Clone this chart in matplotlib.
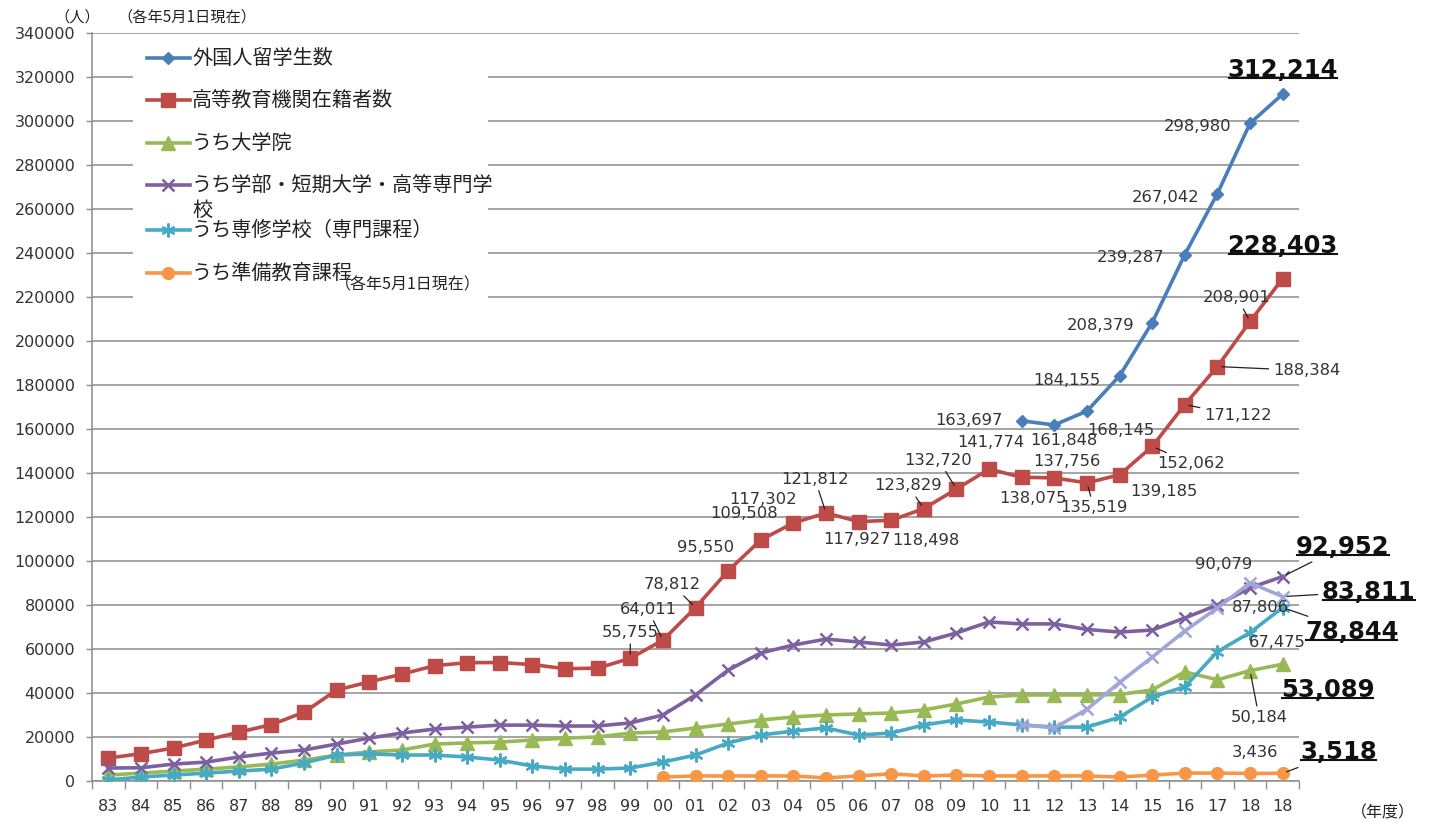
import matplotlib
matplotlib.use('Agg')
import matplotlib.pyplot as plt
from matplotlib.lines import Line2D
from matplotlib.patches import Rectangle
from matplotlib.text import Text
import numpy as np

plt.rcParams['font.family'] = ['DejaVu Sans', 'Noto Sans CJK JP']
JP = ['Noto Sans CJK JP', 'DejaVu Sans']

# ── Data ─────────────────────────────────────────────────────────
years = ['83', '84', '85', '86', '87', '88', '89', '90', '91', '92', '93', '94',
         '95', '96', '97', '98', '99', '00', '01', '02', '03', '04', '05', '06',
         '07', '08', '09', '10', '11', '12', '13', '14', '15', '16', '17', '18', '18']
nan = np.nan

foreign = [nan] * 28 + [163697, 161848, 168145, 184155, 208379, 239287,
                        267042, 298980, 312214]
higher = [10428, 12410, 15009, 18631, 22154, 25643, 31251, 41347, 45066, 48561,
          52405, 53787, 53847, 52921, 51047, 51298, 55755, 64011, 78812, 95550,
          109508, 117302, 121812, 117927, 118498, 123829, 132720, 141774, 138075,
          137756, 135519, 139185, 152062, 171122, 188384, 208901, 228403]
grad = [2700, 3600, 4500, 5400, 6400, 7700, 9500, 11800, 13200, 14100, 16800,
        17300, 17700, 18600, 19500, 20000, 21800, 22300, 24100, 25900, 27700,
        29100, 30000, 30500, 30900, 32300, 35000, 38200, 39100, 39100, 39100,
        39300, 41400, 49600, 46000, 50184, 53089]
undergrad = [5900, 6000, 7700, 8600, 10900, 12700, 14100, 16800, 19500, 21800,
             23600, 24500, 25400, 25400, 25000, 25000, 26400, 30000, 39100, 50400,
             58200, 61800, 64500, 63200, 61800, 63200, 67300, 72300, 71400, 71400,
             68900, 67700, 68600, 74100, 80000, 87806, 92952]
senshu = [500, 1800, 2700, 3600, 4500, 5400, 8200, 11800, 12300, 11800, 11800,
          10900, 9500, 6800, 5400, 5400, 5900, 8600, 11800, 17300, 20900, 22700,
          24100, 20900, 21800, 25500, 27700, 26800, 25500, 24500, 24500, 29000,
          38200, 42800, 58800, 67475, 78844]
prep = [nan] * 17 + [1800, 2300, 2300, 2300, 2300, 1400, 2300, 3300, 2300, 2700,
                     2300, 2300, 2300, 2300, 1800, 2700, 3600, 3600, 3436, 3518]
jplang = [nan] * 28 + [25600, 24100, 32600, 44800, 56300, 68200, 78700, 90079, 83811]

# ── Figure / axes ────────────────────────────────────────────────
W, H = 1431, 822
fig = plt.figure(figsize=(W / 100, H / 100), dpi=100, facecolor='white')
ax = fig.add_axes([92 / W, 1 - 781 / H, (1299 - 92) / W, (781 - 33) / H])

x = np.arange(len(years))
grid_c = '#8C8C8C'

styles = {
    'higher':    dict(color='#BE4B48', marker='s', ms=9.5, mew=1),
    'foreign':   dict(color='#4A7EBB', marker='D', ms=6.5, mew=1),
    'grad':      dict(color='#98B954', marker='^', ms=9.5, mew=1),
    'undergrad': dict(color='#7D60A0', marker='x', ms=9, mew=1.8),
    'senshu':    dict(color='#46AAC5', marker=(6, 2, 0), ms=10, mew=1.6),
    'prep':      dict(color='#F79646', marker='o', ms=8.5, mew=1),
    'jplang':    dict(color='#A0A6D8', marker='x', ms=9, mew=1.8),
}
data = {'higher': higher, 'foreign': foreign, 'grad': grad,
        'undergrad': undergrad, 'senshu': senshu, 'prep': prep, 'jplang': jplang}

for key in ['higher', 'foreign', 'grad', 'undergrad', 'senshu', 'prep', 'jplang']:
    st = styles[key]
    ax.plot(x, np.array(data[key], dtype=float), color=st['color'], lw=2.6,
            marker=st['marker'], markersize=st['ms'], markeredgewidth=st['mew'],
            markeredgecolor=st['color'], markerfacecolor=st['color'], zorder=3)

ax.set_xlim(-0.5, len(years) - 0.5)
ax.set_ylim(0, 340000)
ax.set_yticks(np.arange(0, 340001, 20000))
ax.set_yticklabels([str(v) for v in range(0, 340001, 20000)])
ax.set_xticks(x)
ax.set_xticklabels(years)
ax.set_xticks(np.arange(-0.5, len(years), 1), minor=True)
ax.tick_params(axis='x', which='major', length=0, pad=13, labelsize=11.5,
               labelcolor='#333333')
ax.tick_params(axis='x', which='minor', length=6, width=1, color=grid_c,
               direction='out')
ax.tick_params(axis='y', length=4, width=1, color=grid_c, pad=8,
               labelsize=11.5, labelcolor='#333333')
ax.yaxis.grid(True, color=grid_c, lw=1.1)
ax.set_axisbelow(True)
for s in ['top', 'right']:
    ax.spines[s].set_visible(False)
for s in ['left', 'bottom']:
    ax.spines[s].set_color(grid_c)
    ax.spines[s].set_linewidth(1.1)

# ── Value labels ─────────────────────────────────────────────────
# (series, index, dx px, dy px (down), leader, big)
labels = [
    ('foreign', 28, -53, 0, False, False),
    ('foreign', 29, 10, 16, False, False),
    ('foreign', 30, 34, 19, False, False),
    ('foreign', 31, -53, 5, False, False),
    ('foreign', 32, -52, 3, False, False),
    ('foreign', 33, -54, 3, False, False),
    ('foreign', 34, -52, 4, False, False),
    ('foreign', 35, -53, 3, False, False),
    ('foreign', 36, 0, -24, False, True),
    ('higher', 16, 0, -26, True, False),
    ('higher', 17, -15, -31, True, False),
    ('higher', 18, -23, -23, True, False),
    ('higher', 19, -23, -23, False, False),
    ('higher', 20, -17, -27, False, False),
    ('higher', 21, -30, -23, False, False),
    ('higher', 22, -11, -34, True, False),
    ('higher', 23, -2, 18, False, False),
    ('higher', 24, 35, 20, False, False),
    ('higher', 25, -16, -23, True, False),
    ('higher', 26, -18, -29, True, False),
    ('higher', 27, 2, -27, False, False),
    ('higher', 28, 11, 21, False, False),
    ('higher', 29, 13, -16, False, False),
    ('higher', 30, 7, 25, True, False),
    ('higher', 31, 44, 17, False, False),
    ('higher', 32, 39, 17, True, False),
    ('higher', 33, 53, 11, True, False),
    ('higher', 34, 89, 4, True, False),
    ('higher', 35, -13, -24, True, False),
    ('higher', 36, 0, -33, False, True),
    ('undergrad', 35, 10, 20, False, False),
    ('undergrad', 36, 60, -30, True, True),
    ('jplang', 35, -26, -18, False, False),
    ('jplang', 36, 86, -5, True, True),
    ('senshu', 35, 27, 10, False, False),
    ('senshu', 36, 69, 24, True, True),
    ('grad', 35, 9, 47, True, False),
    ('grad', 36, 45, 26, False, True),
    ('prep', 35, 5, -21, False, False),
    ('prep', 36, 56, -21, True, True),
]

big_texts = []
for key, i, dx, dy, leader, big in labels:
    v = data[key][i]
    kw = dict(xy=(i, v), xytext=(dx, -dy), textcoords='offset pixels',
              ha='center', va='center', zorder=6)
    if leader:
        kw['arrowprops'] = dict(arrowstyle='-', color='#222222', lw=0.9,
                                shrinkA=1, shrinkB=3)
    if big:
        t = ax.annotate(f'{v:,}', fontsize=17.5, fontweight='bold',
                        color='#111111', **kw)
        big_texts.append(t)
    else:
        ax.annotate(f'{v:,}', fontsize=11.8, color='#333333', **kw)

# ── Legend (drawn by hand to match layout) ───────────────────────
def fx(px):
    return px / W


def fy(py):
    return 1 - py / H


fig.add_artist(Rectangle((fx(133), fy(298)), fx(488) - fx(133), fy(36) - fy(298),
                         transform=fig.transFigure, facecolor='white',
                         edgecolor='none', zorder=2))
leg_items = [
    ('foreign', '外国人留学生数', 58),
    ('higher', '高等教育機関在籍者数', 100),
    ('grad', 'うち大学院', 143),
    ('undergrad', 'うち学部・短期大学・高等専門学', 185),
    ('senshu', 'うち専修学校（専門課程）', 230),
    ('prep', 'うち準備教育課程', 273),
]
for key, name, py in leg_items:
    st = styles[key]
    fig.add_artist(Line2D([fx(147), fx(190)], [fy(py), fy(py)],
                          transform=fig.transFigure, color=st['color'], lw=2.6,
                          zorder=3))
    fig.add_artist(Line2D([fx(168)], [fy(py)], transform=fig.transFigure,
                          color=st['color'], marker=st['marker'],
                          markersize=st['ms'], markeredgewidth=st['mew'],
                          linestyle='none', zorder=3))
    fig.text(fx(192), fy(py), name, fontsize=14.5, family=JP, va='center',
             ha='left', color='#222222', zorder=4)
fig.text(fx(192), fy(210), '校', fontsize=14.5, family=JP, va='center',
         ha='left', color='#222222', zorder=4)
fig.text(fx(408), fy(285), '（各年5月1日現在）', fontsize=11.5, family=JP,
         va='center', ha='center', color='#222222', zorder=4)

# ── Unit notes ───────────────────────────────────────────────────
fig.text(fx(77), fy(17), '（人）', fontsize=11, family=JP, ha='center',
         va='center', color='#222222')
fig.text(fx(187), fy(17), '（各年5月1日現在）', fontsize=11, family=JP,
         ha='center', va='center', color='#222222')
fig.text(fx(1383), fy(813), '（年度）', fontsize=11.5, family=JP, ha='center',
         va='center', color='#222222')

# ── Underline the headline values (text box only, not the leader) ─
fig.canvas.draw()
renderer = fig.canvas.get_renderer()
inv = fig.transFigure.inverted()
for t in big_texts:
    bb = Text.get_window_extent(t, renderer)
    (x0, y0), (x1, _) = inv.transform([(bb.x0 + 1, bb.y0 + 4), (bb.x1 - 1, bb.y0 + 4)])
    fig.add_artist(Line2D([x0, x1], [y0, y0], transform=fig.transFigure,
                          color='#111111', lw=1.5, zorder=7))

fig.savefig('out.png', dpi=100, facecolor='white')
